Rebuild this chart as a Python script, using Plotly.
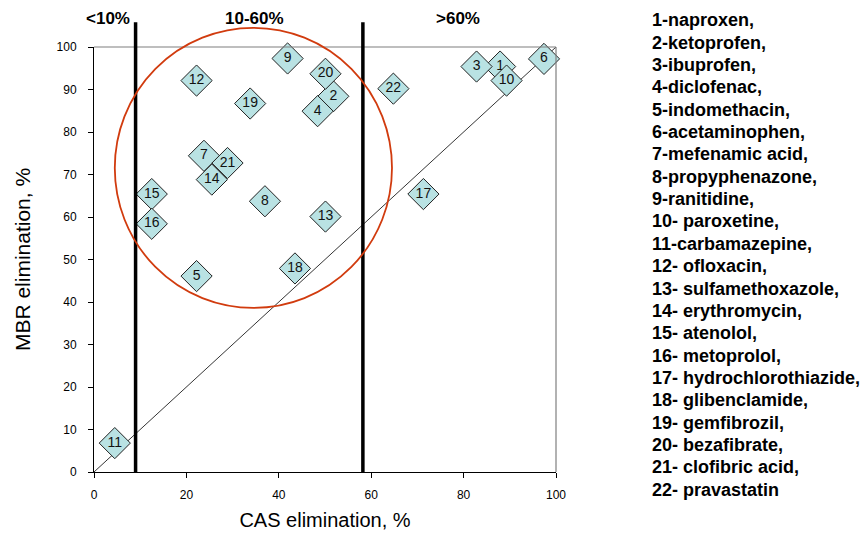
import plotly.graph_objects as go

ids = [str(i) for i in range(1, 23)]
cas = [87.9, 51.8, 82.8, 48.4, 22.2, 97.4, 23.8, 37.0, 41.9, 89.3, 4.5,
       22.2, 50.1, 25.5, 12.5, 12.5, 71.3, 43.5, 33.8, 50.1, 28.9, 64.8]
mbr = [95.4, 88.4, 95.4, 84.9, 46.1, 97.2, 74.4, 63.7, 97.3, 92.1, 6.8,
       92.1, 60.1, 68.8, 65.4, 58.4, 65.4, 47.9, 86.7, 93.7, 72.7, 90.2]
names = ["1-naproxen,", "2-ketoprofen,", "3-ibuprofen,", "4-diclofenac,",
         "5-indomethacin,", "6-acetaminophen,", "7-mefenamic acid,",
         "8-propyphenazone,", "9-ranitidine,", "10- paroxetine,",
         "11-carbamazepine,", "12- ofloxacin,", "13- sulfamethoxazole,",
         "14- erythromycin,", "15- atenolol,", "16- metoprolol,",
         "17- hydrochlorothiazide,", "18- glibenclamide,", "19- gemfibrozil,",
         "20- bezafibrate,", "21- clofibric acid,", "22- pravastatin"]
diag_x = [0, 100]
diag_y = [0, 100]
bounds = [9, 58.2]
zone_labels = ["<10%", "10-60%", ">60%"]
zone_label_x = [3, 34.7, 78.8]
circle_x = [4.5, 64.5]
circle_y = [38.6, 104.5]
bound_top = 105.8

XR = [0, 100]
YR = [0, 100]

FONT = "Arial, Liberation Sans, sans-serif"

fig = go.Figure()
fig.add_trace(go.Scatter(x=diag_x, y=diag_y, mode="lines",
                         line=dict(color="black", width=0.8),
                         hoverinfo="skip", showlegend=False))
for i in range(len(ids)):
    fig.add_trace(go.Scatter(
        x=[cas[i]], y=[mbr[i]], mode="markers+text", text=[ids[i]],
        textposition="middle center", name=names[i],
        textfont=dict(family=FONT, size=14, color="#111111"),
        marker=dict(symbol="diamond", size=24, color="#b9e2e3",
                    line=dict(color="#222222", width=1)),
        cliponaxis=False, showlegend=False))

def px(v):
    return (v - XR[0]) / (XR[1] - XR[0])

def py(v):
    return (v - YR[0]) / (YR[1] - YR[0])

shapes = []
shapes.append(dict(type="line", xref="paper", yref="paper", x0=0, x1=1, y0=1, y1=1,
                   line=dict(color="#7f7f7f", width=1.2)))
shapes.append(dict(type="line", xref="paper", yref="paper", x0=1, x1=1, y0=0, y1=1,
                   line=dict(color="#7f7f7f", width=1.2)))
for b in bounds:
    shapes.append(dict(type="line", xref="paper", yref="paper",
                       x0=px(b), x1=px(b), y0=0, y1=py(bound_top),
                       line=dict(color="black", width=3.5)))
shapes.append(dict(type="circle", xref="paper", yref="paper",
                   x0=px(circle_x[0]), x1=px(circle_x[1]),
                   y0=py(circle_y[0]), y1=py(circle_y[1]),
                   line=dict(color="#d13b0e", width=1.8), layer="above"))

annotations = []
for lab, lx in zip(zone_labels, zone_label_x):
    annotations.append(dict(text="<b>%s</b>" % lab, xref="paper", yref="paper",
                            x=px(lx), y=1.0665, showarrow=False,
                            font=dict(family=FONT, size=17, color="black"),
                            xanchor="center", yanchor="middle"))
for i, n in enumerate(names):
    annotations.append(dict(text="<b>%s</b>" % n, xref="paper", yref="paper",
                            x=(650 - 94) / 462, y=(475 - (20 + i * 22.52)) / 428,
                            showarrow=False, xanchor="left", yanchor="middle",
                            font=dict(family=FONT, size=18, color="black")))

fig.update_layout(
    width=860, height=531,
    margin=dict(l=86, r=312, t=39, b=64),
    plot_bgcolor="white", paper_bgcolor="white",
    shapes=shapes, annotations=annotations,
    xaxis=dict(range=XR, dtick=20, tick0=0, showgrid=False, zeroline=False,
               showline=True, linecolor="black", linewidth=1,
               ticks="outside", ticklen=5, tickcolor="black",
               ticklabelstandoff=7,
               tickfont=dict(family=FONT, size=12, color="black"),
               title=dict(text="CAS elimination, %", standoff=11,
                          font=dict(family=FONT, size=20, color="black"))),
    yaxis=dict(range=YR, dtick=10, tick0=0, showgrid=False, zeroline=False,
               showline=True, linecolor="black", linewidth=1,
               ticks="outside", ticklen=5, tickcolor="black",
               ticklabelstandoff=9,
               tickfont=dict(family=FONT, size=12, color="black"),
               title=dict(text="MBR elimination, %", standoff=20,
                          font=dict(family=FONT, size=21, color="black"))),
)

fig.write_html("out.html")
